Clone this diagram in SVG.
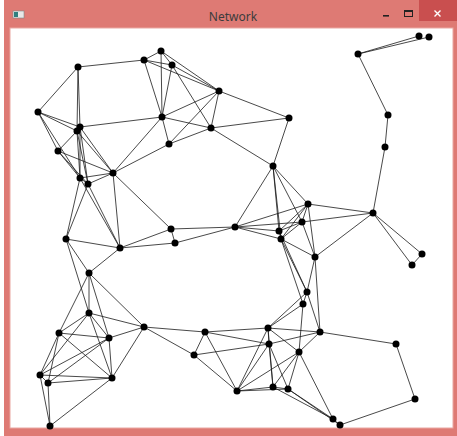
<svg xmlns="http://www.w3.org/2000/svg" width="457" height="436" viewBox="0 0 457 436">
<style>
.e line{stroke:#1a1a1a;stroke-width:0.8}
.n circle{fill:#000}
.t{font-family:"Noto Sans","Liberation Sans",sans-serif;font-size:12px;fill:#3c3c3c}
</style>
<rect width="457" height="436" fill="#fff"/>
<g id="window">
<rect x="4" y="0" width="453" height="436" fill="#DE7A74"/>
<rect x="419" y="0" width="38" height="21" fill="#C94F4F"/>
<rect x="10" y="28" width="443" height="400" fill="#fff" stroke="#E9A7A2" stroke-width="1"/>
<rect x="13" y="11" width="11" height="7" fill="#e8e8e8" stroke="#7a8a8a" stroke-width="0.6"/>
<rect x="14" y="12" width="4" height="5" fill="#2f7f7f"/>
<text class="t" x="233" y="21" text-anchor="middle">Network</text>
<rect x="383" y="15" width="6" height="1.6" fill="#222"/>
<rect x="404.5" y="10.5" width="8" height="6" fill="none" stroke="#222" stroke-width="1"/>
<rect x="404.5" y="10.5" width="8" height="1.5" fill="#222"/>
<path d="M434.5 10.5 L440.5 16.5 M440.5 10.5 L434.5 16.5" stroke="#fff" stroke-width="1.4"/>
</g>
<g id="connectors" class="e">
<line x1="78" y1="67" x2="144" y2="60"/><line x1="78" y1="67" x2="38" y2="112"/><line x1="78" y1="67" x2="80" y2="127"/><line x1="78" y1="67" x2="77" y2="131"/>
<line x1="38" y1="112" x2="80" y2="127"/><line x1="38" y1="112" x2="77" y2="131"/><line x1="38" y1="112" x2="58" y2="151"/><line x1="38" y1="112" x2="80" y2="178"/>
<line x1="80" y1="127" x2="162" y2="117"/><line x1="80" y1="127" x2="113" y2="173"/><line x1="80" y1="127" x2="80" y2="178"/><line x1="80" y1="127" x2="88" y2="184"/>
<line x1="77" y1="131" x2="80" y2="178"/><line x1="77" y1="131" x2="88" y2="184"/><line x1="77" y1="131" x2="58" y2="151"/><line x1="77" y1="131" x2="113" y2="173"/>
<line x1="58" y1="151" x2="113" y2="173"/><line x1="58" y1="151" x2="80" y2="178"/><line x1="58" y1="151" x2="88" y2="184"/>
<line x1="113" y1="173" x2="162" y2="117"/><line x1="113" y1="173" x2="169" y2="144"/><line x1="113" y1="173" x2="88" y2="184"/><line x1="113" y1="173" x2="80" y2="178"/><line x1="113" y1="173" x2="120" y2="248"/><line x1="113" y1="173" x2="171" y2="229"/>
<line x1="80" y1="178" x2="88" y2="184"/><line x1="80" y1="178" x2="66" y2="239"/><line x1="88" y1="184" x2="66" y2="239"/><line x1="80" y1="178" x2="120" y2="248"/><line x1="88" y1="184" x2="120" y2="248"/>
<line x1="144" y1="60" x2="161" y2="51"/><line x1="144" y1="60" x2="172" y2="65"/><line x1="144" y1="60" x2="219" y2="91"/><line x1="144" y1="60" x2="162" y2="117"/>
<line x1="161" y1="51" x2="172" y2="65"/><line x1="161" y1="51" x2="219" y2="91"/><line x1="161" y1="51" x2="162" y2="117"/>
<line x1="172" y1="65" x2="219" y2="91"/><line x1="172" y1="65" x2="162" y2="117"/><line x1="172" y1="65" x2="211" y2="128"/>
<line x1="219" y1="91" x2="162" y2="117"/><line x1="219" y1="91" x2="211" y2="128"/><line x1="219" y1="91" x2="289" y2="118"/><line x1="219" y1="91" x2="169" y2="144"/>
<line x1="162" y1="117" x2="211" y2="128"/><line x1="162" y1="117" x2="169" y2="144"/><line x1="211" y1="128" x2="289" y2="118"/><line x1="211" y1="128" x2="169" y2="144"/><line x1="211" y1="128" x2="273" y2="166"/><line x1="289" y1="118" x2="273" y2="166"/>
<line x1="273" y1="166" x2="308" y2="204"/><line x1="273" y1="166" x2="302" y2="222"/><line x1="273" y1="166" x2="279" y2="231"/><line x1="273" y1="166" x2="281" y2="239"/><line x1="273" y1="166" x2="235" y2="227"/>
<line x1="235" y1="227" x2="308" y2="204"/><line x1="235" y1="227" x2="302" y2="222"/><line x1="235" y1="227" x2="279" y2="231"/><line x1="235" y1="227" x2="281" y2="239"/><line x1="235" y1="227" x2="171" y2="229"/><line x1="235" y1="227" x2="175" y2="243"/>
<line x1="308" y1="204" x2="373" y2="213"/><line x1="308" y1="204" x2="302" y2="222"/><line x1="308" y1="204" x2="279" y2="231"/><line x1="308" y1="204" x2="281" y2="239"/><line x1="308" y1="204" x2="315" y2="257"/>
<line x1="302" y1="222" x2="373" y2="213"/><line x1="302" y1="222" x2="279" y2="231"/><line x1="302" y1="222" x2="281" y2="239"/><line x1="302" y1="222" x2="315" y2="257"/>
<line x1="279" y1="231" x2="281" y2="239"/><line x1="279" y1="231" x2="307" y2="292"/><line x1="281" y1="239" x2="307" y2="292"/><line x1="281" y1="239" x2="303" y2="304"/><line x1="281" y1="239" x2="315" y2="257"/>
<line x1="315" y1="257" x2="373" y2="213"/><line x1="315" y1="257" x2="307" y2="292"/><line x1="315" y1="257" x2="320" y2="332"/>
<line x1="373" y1="213" x2="385" y2="147"/><line x1="373" y1="213" x2="422" y2="254"/><line x1="373" y1="213" x2="412" y2="265"/><line x1="422" y1="254" x2="412" y2="265"/>
<line x1="385" y1="147" x2="388" y2="115"/><line x1="388" y1="115" x2="358" y2="54"/><line x1="358" y1="54" x2="419" y2="36"/><line x1="358" y1="54" x2="429" y2="37"/>
<line x1="66" y1="239" x2="120" y2="248"/><line x1="66" y1="239" x2="89" y2="273"/><line x1="66" y1="239" x2="89" y2="313"/><line x1="120" y1="248" x2="89" y2="273"/><line x1="120" y1="248" x2="171" y2="229"/><line x1="120" y1="248" x2="175" y2="243"/><line x1="171" y1="229" x2="175" y2="243"/>
<line x1="89" y1="273" x2="89" y2="313"/><line x1="89" y1="273" x2="59" y2="333"/><line x1="89" y1="273" x2="109" y2="338"/><line x1="89" y1="273" x2="144" y2="327"/>
<line x1="89" y1="313" x2="144" y2="327"/><line x1="89" y1="313" x2="59" y2="333"/><line x1="89" y1="313" x2="109" y2="338"/><line x1="89" y1="313" x2="112" y2="378"/><line x1="89" y1="313" x2="40" y2="375"/>
<line x1="59" y1="333" x2="109" y2="338"/><line x1="59" y1="333" x2="40" y2="375"/><line x1="59" y1="333" x2="48" y2="383"/><line x1="59" y1="333" x2="112" y2="378"/>
<line x1="109" y1="338" x2="144" y2="327"/><line x1="109" y1="338" x2="40" y2="375"/><line x1="109" y1="338" x2="48" y2="383"/><line x1="109" y1="338" x2="112" y2="378"/>
<line x1="144" y1="327" x2="112" y2="378"/><line x1="40" y1="375" x2="48" y2="383"/><line x1="40" y1="375" x2="112" y2="378"/><line x1="48" y1="383" x2="112" y2="378"/><line x1="40" y1="375" x2="50" y2="426"/><line x1="48" y1="383" x2="50" y2="426"/><line x1="112" y1="378" x2="50" y2="426"/>
<line x1="144" y1="327" x2="205" y2="332"/><line x1="144" y1="327" x2="194" y2="355"/>
<line x1="205" y1="332" x2="194" y2="355"/><line x1="205" y1="332" x2="268" y2="328"/><line x1="205" y1="332" x2="269" y2="344"/><line x1="205" y1="332" x2="237" y2="391"/><line x1="194" y1="355" x2="237" y2="391"/><line x1="194" y1="355" x2="269" y2="344"/>
<line x1="268" y1="328" x2="269" y2="344"/><line x1="268" y1="328" x2="299" y2="352"/><line x1="268" y1="328" x2="237" y2="391"/><line x1="268" y1="328" x2="273" y2="387"/><line x1="268" y1="328" x2="320" y2="332"/><line x1="268" y1="328" x2="307" y2="292"/><line x1="268" y1="328" x2="303" y2="304"/>
<line x1="269" y1="344" x2="237" y2="391"/><line x1="269" y1="344" x2="273" y2="387"/><line x1="269" y1="344" x2="288" y2="389"/><line x1="269" y1="344" x2="320" y2="332"/>
<line x1="299" y1="352" x2="237" y2="391"/><line x1="299" y1="352" x2="273" y2="387"/><line x1="299" y1="352" x2="288" y2="389"/><line x1="299" y1="352" x2="320" y2="332"/><line x1="299" y1="352" x2="303" y2="304"/><line x1="299" y1="352" x2="333" y2="419"/>
<line x1="237" y1="391" x2="273" y2="387"/><line x1="237" y1="391" x2="288" y2="389"/><line x1="273" y1="387" x2="288" y2="389"/>
<line x1="273" y1="387" x2="333" y2="419"/><line x1="288" y1="389" x2="333" y2="419"/><line x1="288" y1="389" x2="340" y2="425"/>
<line x1="320" y1="332" x2="396" y2="344"/><line x1="396" y1="344" x2="415" y2="399"/><line x1="415" y1="399" x2="340" y2="425"/><line x1="333" y1="419" x2="340" y2="425"/>
<line x1="307" y1="292" x2="320" y2="332"/><line x1="307" y1="292" x2="303" y2="304"/>
</g>
<g id="nodes" class="n">
<circle id="n1" cx="78" cy="67" r="3.5"/><circle id="n2" cx="144" cy="60" r="3.5"/><circle id="n3" cx="161" cy="51" r="3.5"/><circle id="n4" cx="172" cy="65" r="3.5"/><circle id="n5" cx="219" cy="91" r="3.5"/>
<circle id="n6" cx="38" cy="112" r="3.5"/><circle id="n7" cx="80" cy="127" r="3.5"/><circle id="n8" cx="77" cy="131" r="3.5"/><circle id="n9" cx="162" cy="117" r="3.5"/><circle id="n10" cx="211" cy="128" r="3.5"/>
<circle id="n11" cx="289" cy="118" r="3.5"/><circle id="n12" cx="58" cy="151" r="3.5"/><circle id="n13" cx="169" cy="144" r="3.5"/><circle id="n14" cx="113" cy="173" r="3.5"/><circle id="n15" cx="80" cy="178" r="3.5"/>
<circle id="n16" cx="88" cy="184" r="3.5"/><circle id="n17" cx="273" cy="166" r="3.5"/><circle id="n18" cx="358" cy="54" r="3.5"/><circle id="n19" cx="419" cy="36" r="3.5"/><circle id="n20" cx="429" cy="37" r="3.5"/>
<circle id="n21" cx="388" cy="115" r="3.5"/><circle id="n22" cx="385" cy="147" r="3.5"/><circle id="n23" cx="373" cy="213" r="3.5"/><circle id="n24" cx="308" cy="204" r="3.5"/><circle id="n25" cx="302" cy="222" r="3.5"/>
<circle id="n26" cx="279" cy="231" r="3.5"/><circle id="n27" cx="281" cy="239" r="3.5"/><circle id="n28" cx="315" cy="257" r="3.5"/><circle id="n29" cx="422" cy="254" r="3.5"/><circle id="n30" cx="412" cy="265" r="3.5"/>
<circle id="n31" cx="66" cy="239" r="3.5"/><circle id="n32" cx="120" cy="248" r="3.5"/><circle id="n33" cx="171" cy="229" r="3.5"/><circle id="n34" cx="175" cy="243" r="3.5"/><circle id="n35" cx="235" cy="227" r="3.5"/>
<circle id="n36" cx="89" cy="273" r="3.5"/><circle id="n37" cx="307" cy="292" r="3.5"/><circle id="n38" cx="303" cy="304" r="3.5"/><circle id="n39" cx="89" cy="313" r="3.5"/><circle id="n40" cx="144" cy="327" r="3.5"/>
<circle id="n41" cx="59" cy="333" r="3.5"/><circle id="n42" cx="109" cy="338" r="3.5"/><circle id="n43" cx="40" cy="375" r="3.5"/><circle id="n44" cx="48" cy="383" r="3.5"/><circle id="n45" cx="112" cy="378" r="3.5"/>
<circle id="n46" cx="50" cy="426" r="3.5"/><circle id="n47" cx="205" cy="332" r="3.5"/><circle id="n48" cx="194" cy="355" r="3.5"/><circle id="n49" cx="268" cy="328" r="3.5"/><circle id="n50" cx="269" cy="344" r="3.5"/>
<circle id="n51" cx="299" cy="352" r="3.5"/><circle id="n52" cx="320" cy="332" r="3.5"/><circle id="n53" cx="237" cy="391" r="3.5"/><circle id="n54" cx="273" cy="387" r="3.5"/><circle id="n55" cx="288" cy="389" r="3.5"/>
<circle id="n56" cx="396" cy="344" r="3.5"/><circle id="n57" cx="415" cy="399" r="3.5"/><circle id="n58" cx="333" cy="419" r="3.5"/><circle id="n59" cx="340" cy="425" r="3.5"/>
</g>
</svg>
